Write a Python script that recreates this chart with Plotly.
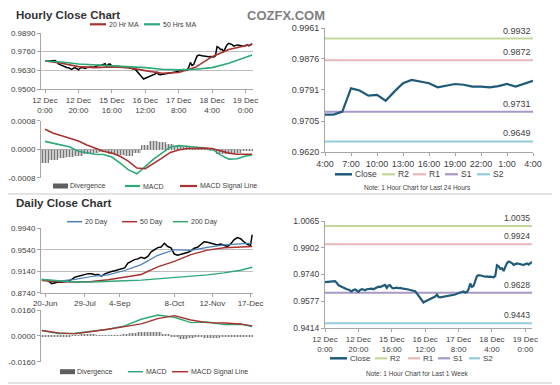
import plotly.graph_objects as go

# The page body has an 8px margin, so the figure is sized to fit the 560x385 window
# and every reference pixel position is shifted by that offset.
WIN_W, WIN_H, OFF = 560, 385, 8
W, H = WIN_W - OFF, WIN_H - OFF

# ---------------- DATA ----------------
# Hourly closes for last week (index = hour number, 0 = 12 Dec 0:00)
week_close_early = [
    0.9693, 0.9694, 0.9693, 0.9695, 0.9694, 0.9696, 0.9699, 0.9690, 0.9675, 0.9670,
    0.9664, 0.9660, 0.9652, 0.9650, 0.9648, 0.9640, 0.9636, 0.9645, 0.9648, 0.9642,
    0.9634, 0.9645, 0.9650, 0.9648, 0.9644, 0.9650, 0.9652, 0.9656, 0.9654, 0.9650,
    0.9656, 0.9662, 0.9665, 0.9663, 0.9668, 0.9671, 0.9676, 0.9658, 0.9672, 0.9674,
    0.9660, 0.9655, 0.9658, 0.9660, 0.9656, 0.9658, 0.9655, 0.9654, 0.9650, 0.9652,
    0.9648, 0.9645, 0.9644, 0.9640, 0.9638, 0.9625, 0.9610, 0.9595, 0.9582, 0.9569,
    0.9575, 0.9580, 0.9585, 0.9590, 0.9596, 0.9600, 0.9605, 0.9617, 0.9603, 0.9600,
    0.9602, 0.9601, 0.9603, 0.9605, 0.9606, 0.9608, 0.9612, 0.9615, 0.9618, 0.9622,
    0.9626, 0.9632, 0.9634, 0.9636, 0.9630, 0.9633, 0.9650, 0.9685, 0.9664, 0.9671,
    0.9700, 0.9729, 0.9736, 0.9736, 0.9732, 0.9729, 0.9726, 0.9728, 0.9725, 0.9727,
]
# Last 24 hours (4:00 .. 4:00)
last24_close = [0.9723, 0.9723, 0.9731, 0.9795, 0.9789, 0.9775, 0.9777, 0.9761, 0.9786,
                0.9809, 0.9818, 0.9813, 0.9809, 0.9798, 0.9802, 0.9807, 0.9805, 0.9800,
                0.9800, 0.9798, 0.9801, 0.9807, 0.9800, 0.9807, 0.9816]
last24_labels = ["4:00", "7:00", "10:00", "13:00", "16:00", "19:00", "22:00", "1:00", "4:00"]
week_close = week_close_early + last24_close
week_labels = ["12 Dec<br>0:00", "12 Dec<br>20:00", "15 Dec<br>16:00", "16 Dec<br>12:00",
               "17 Dec<br>8:00", "18 Dec<br>4:00", "19 Dec<br>0:00"]

# Hourly moving averages (sampled)
hma_idx = [0, 10, 20, 30, 40, 50, 60, 70, 80, 90, 100, 110, 120, 124]
hma20 = [0.9695, 0.9679, 0.9656, 0.9649, 0.9654, 0.9649, 0.9628, 0.9610, 0.9615, 0.9651,
         0.9725, 0.9775, 0.9801, 0.9810]
hma50 = [0.9695, 0.9688, 0.9674, 0.9667, 0.9663, 0.9658, 0.9649, 0.9638, 0.9633, 0.9638,
         0.9649, 0.9679, 0.9720, 0.9736]

# Hourly MACD (sampled)
hmacd_idx = [0, 5, 10, 15, 20, 25, 30, 35, 40, 45, 50, 55, 60, 65, 70, 75, 80, 85, 90, 95,
             100, 105, 110, 115, 120, 124]
hmacd = [0.00022, 0.00017, 0.00011, 0.00006, -0.00006, -0.00011, -0.00014, -0.00015,
         -0.00022, -0.00039, -0.00058, -0.00069, -0.00048, -0.00028, -0.00011, 0.00006,
         0.00010, 0.00009, 0.00006, 0.00003, 0.00000, -0.00016, -0.00028, -0.00027,
         -0.00019, -0.00016]
hsignal = [0.00056, 0.00045, 0.00038, 0.00031, 0.00023, 0.00012, 0.00002, -0.00006,
           -0.00011, -0.00020, -0.00034, -0.00053, -0.00055, -0.00041, -0.00025, -0.00009,
           -0.00002, 0.00002, 0.00003, 0.00003, 0.00002, -0.00005, -0.00011, -0.00014,
           -0.00014, -0.00014]
hdiv = [-0.00038, -0.00030, -0.00025, -0.00022, -0.00018, -0.00012, -0.00010, -0.00008,
        -0.00012, -0.00015, -0.00018, -0.00010, 0.00012, 0.00024, 0.00022, 0.00016,
        0.00010, 0.00007, 0.00005, 0.00003, -0.00002, -0.00012, -0.00014, -0.00010,
        -0.00005, -0.00002]

# Pivot levels
level_names = ["R2", "R1", "S1", "S2"]
levels_24 = [0.9932, 0.9872, 0.9731, 0.9649]
levels_wk = [1.0035, 0.9924, 0.9628, 0.9443]

# Daily closes (sampled every 2 trading days)
daily_idx = list(range(0, 127, 2)) + [127]
daily_close = [
    0.8987, 0.8975, 0.8960, 0.8910, 0.8930, 0.8940, 0.8935, 0.8945, 0.8956, 0.8987,
    0.9030, 0.9045, 0.9060, 0.9085, 0.9095, 0.9091, 0.9075, 0.9080, 0.9050, 0.9091,
    0.9120, 0.9135, 0.9150, 0.9170, 0.9190, 0.9202, 0.9290, 0.9330, 0.9356, 0.9370,
    0.9399, 0.9380, 0.9417, 0.9500, 0.9540, 0.9580, 0.9590, 0.9660, 0.9600, 0.9575,
    0.9460, 0.9440, 0.9455, 0.9470, 0.9490, 0.9520, 0.9570, 0.9585, 0.9640, 0.9690,
    0.9680, 0.9665, 0.9640, 0.9630, 0.9645, 0.9620, 0.9600, 0.9650, 0.9725, 0.9768,
    0.9745, 0.9690, 0.9640, 0.9620, 0.9820,
]
daily_tickvals = [2, 26, 47, 80, 103, 126]
daily_labels = ["20-Jun", "29-Jul", "4-Sep", "8-Oct", "12-Nov", "17-Dec"]

dma_idx = [0, 10, 20, 30, 40, 50, 60, 70, 80, 90, 100, 110, 120, 127]
dma20 = [0.8987, 0.8956, 0.8987, 0.9042, 0.9073, 0.9153, 0.9264, 0.9436, 0.9540, 0.9528,
         0.9583, 0.9632, 0.9651, 0.9663]
dma50 = [0.8968, 0.8944, 0.8938, 0.8950, 0.8981, 0.9030, 0.9079, 0.9220, 0.9325, 0.9448,
         0.9534, 0.9577, 0.9596, 0.9602]
dma200 = [0.8987, 0.8962, 0.8938, 0.8938, 0.8944, 0.8962, 0.8975, 0.8999, 0.9030, 0.9048,
          0.9073, 0.9110, 0.9159, 0.9214]

dmacd_idx = dma_idx
dsignal = [0.00328, 0.00185, 0.00123, 0.00246, 0.00410, 0.00574, 0.00738, 0.01066,
           0.01251, 0.00984, 0.00820, 0.00800, 0.00738, 0.00615]
dmacd = [0.00328, 0.00144, 0.00164, 0.00308, 0.00410, 0.00615, 0.01025, 0.01292,
         0.01148, 0.00820, 0.00861, 0.00697, 0.00718, 0.00574]
ddiv_idx = list(range(0, 126, 5))
ddiv = [-0.0005, -0.0010, -0.0008, -0.0004, 0.0003, 0.0008, 0.0006, 0.0004, 0.0002, 0.0005,
        0.0012, 0.0020, 0.0025, 0.0024, 0.0022, 0.0012, -0.0010, -0.0018, -0.0016, -0.0005,
        -0.0012, -0.0014, -0.0010, -0.0004, -0.0008, -0.0006]

# ---------------- STYLE ----------------
FONT = "Arial, Liberation Sans, sans-serif"
TXT = "#404040"
AX = "#a6a6a6"
GRID = "#bdbdbd"
RED = "#a8322f"
GREEN = "#2ea878"
BLUE = "#4a7fb5"
CLOSE = "#1f5b78"
LVL_COL = {"R2": "#c4d79b", "R1": "#e6b9b8", "S1": "#a898c6", "S2": "#93cddd"}
DIV_MARKER = dict(color="#d0d0d0", line=dict(width=0),
                  pattern=dict(shape="|", fgcolor="#777777", bgcolor="#dddddd",
                               size=3, solidity=0.45))


def px_x(v):
    return (v - OFF) / W


def px_y(v):
    return 1 - (v - OFF) / H


def dx(a, b):
    return [px_x(a), px_x(b)]


def dy(top, bot):
    return [px_y(bot), px_y(top)]


fig = go.Figure()

# Panel 1: hourly price
fig.add_trace(go.Scatter(x=list(range(len(week_close))), y=week_close, mode="lines",
                         line=dict(color="black", width=1.5), name="Close",
                         xaxis="x", yaxis="y"))
fig.add_trace(go.Scatter(x=hma_idx, y=hma20, mode="lines", name="20 Hr MA",
                         line=dict(color=RED, width=1.6), xaxis="x", yaxis="y"))
fig.add_trace(go.Scatter(x=hma_idx, y=hma50, mode="lines", name="50 Hrs MA",
                         line=dict(color=GREEN, width=1.6), xaxis="x", yaxis="y"))

# Panel 2: hourly MACD
fig.add_trace(go.Bar(x=hmacd_idx, y=hdiv, name="Divergence", width=5, marker=DIV_MARKER,
                     xaxis="x2", yaxis="y2"))
fig.add_trace(go.Scatter(x=hmacd_idx, y=hmacd, mode="lines", name="MACD",
                         line=dict(color=GREEN, width=1.6), xaxis="x2", yaxis="y2"))
fig.add_trace(go.Scatter(x=hmacd_idx, y=hsignal, mode="lines", name="MACD Signal Line",
                         line=dict(color=RED, width=1.6), xaxis="x2", yaxis="y2"))

# Panel 3: last 24 hours
n24 = len(last24_close)
for k, v in zip(level_names, levels_24):
    fig.add_trace(go.Scatter(x=[0, n24 - 1], y=[v, v], mode="lines", name=k,
                             line=dict(color=LVL_COL[k], width=2), xaxis="x3", yaxis="y3"))
    fig.add_annotation(x=n24 - 1, y=v, xref="x3", yref="y3", text=f"{v:.4f}",
                       showarrow=False, xanchor="right", yanchor="bottom", yshift=1,
                       font=dict(size=9, color=TXT, family=FONT))
fig.add_trace(go.Scatter(x=list(range(n24)), y=last24_close, mode="lines",
                         name="Close", line=dict(color=CLOSE, width=2.2),
                         xaxis="x3", yaxis="y3"))

# Panel 4: daily price
fig.add_trace(go.Scatter(x=daily_idx, y=daily_close, mode="lines",
                         line=dict(color="black", width=1.5), name="Close",
                         xaxis="x4", yaxis="y4"))
fig.add_trace(go.Scatter(x=dma_idx, y=dma20, mode="lines", name="20 Day",
                         line=dict(color=BLUE, width=1.2), xaxis="x4", yaxis="y4"))
fig.add_trace(go.Scatter(x=dma_idx, y=dma50, mode="lines", name="50 Day",
                         line=dict(color=RED, width=1.4), xaxis="x4", yaxis="y4"))
fig.add_trace(go.Scatter(x=dma_idx, y=dma200, mode="lines", name="200 Day",
                         line=dict(color=GREEN, width=1.4), xaxis="x4", yaxis="y4"))

# Panel 5: daily MACD
fig.add_trace(go.Bar(x=ddiv_idx, y=ddiv, name="Divergence", width=5, marker=DIV_MARKER,
                     xaxis="x5", yaxis="y5"))
fig.add_trace(go.Scatter(x=dmacd_idx, y=dmacd, mode="lines", name="MACD",
                         line=dict(color=GREEN, width=1.4), xaxis="x5", yaxis="y5"))
fig.add_trace(go.Scatter(x=dmacd_idx, y=dsignal, mode="lines", name="MACD Signal Line",
                         line=dict(color=RED, width=1.4), xaxis="x5", yaxis="y5"))

# Panel 6: last week
nwk = len(week_close)
for k, v in zip(level_names, levels_wk):
    fig.add_trace(go.Scatter(x=[0, nwk - 1], y=[v, v], mode="lines", name=k,
                             line=dict(color=LVL_COL[k], width=2), xaxis="x6", yaxis="y6"))
    fig.add_annotation(x=nwk - 1, y=v, xref="x6", yref="y6", text=f"{v:.4f}",
                       showarrow=False, xanchor="right", yanchor="bottom", yshift=1,
                       font=dict(size=8.5, color=TXT, family=FONT))
fig.add_trace(go.Scatter(x=list(range(nwk)), y=week_close, mode="lines",
                         name="Close", line=dict(color=CLOSE, width=2.2),
                         xaxis="x6", yaxis="y6"))

fig.update_traces(showlegend=False)


# ---------------- AXES ----------------
def xax(dom, anchor, rng, **kw):
    d = dict(domain=dom, anchor=anchor, range=rng, showline=True, linecolor=AX, linewidth=1,
             ticks="outside", ticklen=3, tickcolor=AX, showgrid=False, zeroline=False,
             automargin=False, tickfont=dict(size=8, color=TXT, family=FONT))
    d.update(kw)
    return d


def yax(dom, anchor, rng, tv, tt, grid=True, size=8, **kw):
    d = dict(domain=dom, anchor=anchor, range=rng, showline=True, linecolor=AX, linewidth=1,
             ticks="outside", ticklen=3, tickcolor=AX, tickvals=tv, ticktext=tt,
             showgrid=grid, gridcolor=GRID, gridwidth=1, zeroline=False, automargin=False,
             tickfont=dict(size=size, color=TXT, family=FONT))
    d.update(kw)
    return d


p1_ticks = [0.9500, 0.9630, 0.9760, 0.9890]
p3_ticks = [0.9620, 0.9705, 0.9791, 0.9876, 0.9961]
p4_ticks = [0.8740, 0.9140, 0.9540, 0.9940]
p6_ticks = [0.9414, 0.9577, 0.9740, 0.9902, 1.0065]

fig.update_layout(
    template="none",
    width=W, height=H, margin=dict(l=0, r=0, t=0, b=0, autoexpand=False),
    paper_bgcolor="white", plot_bgcolor="white", showlegend=False,
    font=dict(family=FONT, color=TXT), bargap=0,
    xaxis=xax(dx(41, 253), "y", [-2.4, 124.5], tickvals=[0, 20, 40, 60, 80, 100, 120],
              ticktext=week_labels),
    yaxis=yax(dy(33, 89), "x", [0.9500, 0.9890], p1_ticks, [f"{t:.4f}" for t in p1_ticks]),
    xaxis2=xax(dx(41, 253), "y2", [-2.4, 124.5], showline=False, ticks="", showticklabels=False),
    yaxis2=yax(dy(120.7, 177.7), "x2", [-0.0008, 0.0008], [-0.0008, 0, 0.0008],
               ["-0.0008", "0.0000", "0.0008"], zeroline=True, zerolinecolor=AX),
    xaxis3=xax(dx(325, 533), "y3", [0, 24], tickvals=list(range(0, 25, 3)),
               ticktext=last24_labels, tickfont=dict(size=9, color=TXT, family=FONT)),
    yaxis3=yax(dy(28, 152), "x3", [0.9620, 0.9961], p3_ticks, [f"{t:.4f}" for t in p3_ticks],
               grid=False, size=9),
    xaxis4=xax(dx(41, 253), "y4", [-0.5, 127.5], tickvals=daily_tickvals, ticktext=daily_labels),
    yaxis4=yax(dy(228.3, 292.7), "x4", [0.8740, 0.9940], p4_ticks, [f"{t:.4f}" for t in p4_ticks]),
    xaxis5=xax(dx(41, 253), "y5", [-0.5, 127.5], showline=False, ticks="", showticklabels=False),
    yaxis5=yax(dy(310, 361.7), "x5", [-0.016, 0.016], [-0.016, 0, 0.016],
               ["-0.0160", "0.0000", "0.0160"], zeroline=True, zerolinecolor=AX),
    xaxis6=xax(dx(325, 532), "y6", [0, 124], tickvals=[0, 20, 40, 60, 80, 100, 120],
               ticktext=week_labels, tickfont=dict(size=8, color=TXT, family=FONT)),
    yaxis6=yax(dy(221, 328), "x6", [0.9414, 1.0065], p6_ticks, [f"{t:.4f}" for t in p6_ticks],
               grid=False, size=8.5),
)


# ---------------- LEGENDS (compact keys, positioned as in the reference) ----------------
def key_line(x0, x1, y, color, text, size=7, width=2.2):
    fig.add_shape(type="line", xref="paper", yref="paper", x0=px_x(x0), x1=px_x(x1),
                  y0=px_y(y), y1=px_y(y), line=dict(color=color, width=width))
    fig.add_annotation(x=px_x(x1 + 1), y=px_y(y), xref="paper", yref="paper", text=text,
                       showarrow=False, xanchor="left", yanchor="middle",
                       font=dict(size=size, color=TXT, family=FONT))


def key_box(x0, x1, y, text, size=7):
    fig.add_shape(type="rect", xref="paper", yref="paper", x0=px_x(x0), x1=px_x(x1),
                  y0=px_y(y + 2.5), y1=px_y(y - 2.5), line=dict(width=0),
                  fillcolor="#5e5e5e")
    fig.add_annotation(x=px_x(x1), y=px_y(y), xref="paper", yref="paper", text=text,
                       showarrow=False, xanchor="left", yanchor="middle",
                       font=dict(size=size, color=TXT, family=FONT))


# Hourly price legend
key_line(90, 106, 24.3, RED, "20 Hr MA")
key_line(144, 160, 24.3, GREEN, "50 Hrs MA")
# Hourly MACD legend
key_box(53, 68, 186, "Divergence")
key_line(125, 140, 186, GREEN, "MACD")
key_line(180, 197, 186, RED, "MACD Signal Line")
# Last 24 hours legend
key_line(335, 352, 174.3, CLOSE, "Close", size=8.5, width=2.5)
for k, (a, b) in zip(level_names, [(382, 395), (413, 426), (445, 458), (477, 490)]):
    key_line(a, b, 174.3, LVL_COL[k], k, size=8.5)
# Daily price legend
key_line(67, 82, 221.7, BLUE, "20 Day", width=1.5)
key_line(122, 137, 221.7, RED, "50 Day", width=1.5)
key_line(173, 188, 221.7, GREEN, "200 Day", width=1.5)
# Daily MACD legend
key_box(60, 75, 371.7, "Divergence")
key_line(128, 143, 371.7, GREEN, "MACD", width=1.5)
key_line(172, 188, 371.7, RED, "MACD Signal Line", width=1.5)
# Last week legend
key_line(330, 347, 358.3, CLOSE, "Close", size=8, width=2.5)
for k, (a, b) in zip(level_names, [(375, 387), (408, 420), (438, 450), (469, 480)]):
    key_line(a, b, 358.3, LVL_COL[k], k, size=8)

# Titles and notes (top titles nudged down just enough to stay inside the figure)
fig.add_annotation(x=px_x(14), y=px_y(15), xref="paper", yref="paper",
                   text="<b>Hourly Close Chart</b>", showarrow=False, xanchor="left",
                   yanchor="middle", font=dict(size=11.5, color="#333333", family=FONT))
fig.add_annotation(x=px_x(14), y=px_y(203), xref="paper", yref="paper",
                   text="<b>Daily Close Chart</b>", showarrow=False, xanchor="left",
                   yanchor="middle", font=dict(size=11.5, color="#333333", family=FONT))
fig.add_annotation(x=px_x(286), y=px_y(15.5), xref="paper", yref="paper", text="<b>COZFX.COM</b>",
                   showarrow=False, xanchor="center", yanchor="middle",
                   font=dict(size=13, color="#7f7f7f", family=FONT))
fig.add_annotation(x=px_x(417), y=px_y(187.5), xref="paper", yref="paper",
                   text="Note: 1 Hour Chart for Last 24 Hours", showarrow=False,
                   xanchor="center", yanchor="middle",
                   font=dict(size=6.5, color=TXT, family=FONT))
fig.add_annotation(x=px_x(417), y=px_y(373), xref="paper", yref="paper",
                   text="Note: 1 Hour Chart for Last 1 Week", showarrow=False,
                   xanchor="center", yanchor="middle",
                   font=dict(size=6.5, color=TXT, family=FONT))

# Separator lines
for yy in [194, 383]:
    fig.add_shape(type="line", xref="paper", yref="paper", x0=0, x1=px_x(558),
                  y0=px_y(yy), y1=px_y(yy), line=dict(color="#c8c8c8", width=1))

fig.write_html("out.html")
